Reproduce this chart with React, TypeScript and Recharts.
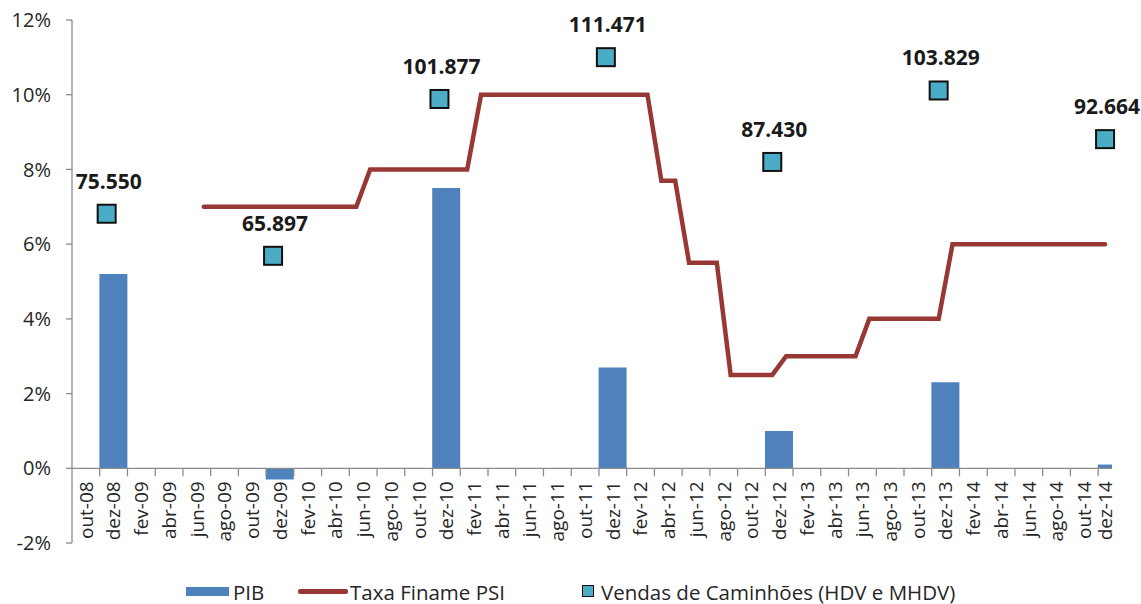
import React from "react";
import { ComposedChart, Bar, Line, Scatter, XAxis, YAxis, ReferenceLine } from "recharts";

// eixo mensal: out-08 .. dez-14 (75 meses), rotulado a cada 2 meses
const MONTHS = 75;
const AXIS_LABELS = [
	"out-08", "dez-08", "fev-09", "abr-09", "jun-09", "ago-09", "out-09", "dez-09",
	"fev-10", "abr-10", "jun-10", "ago-10", "out-10", "dez-10", "fev-11", "abr-11",
	"jun-11", "ago-11", "out-11", "dez-11", "fev-12", "abr-12", "jun-12", "ago-12",
	"out-12", "dez-12", "fev-13", "abr-13", "jun-13", "ago-13", "out-13", "dez-13",
	"fev-14", "abr-14", "jun-14", "ago-14", "out-14", "dez-14",
];
const Y_TICKS = [-2, 0, 2, 4, 6, 8, 10, 12];

const YEARS = [2008, 2009, 2010, 2011, 2012, 2013, 2014];
const PIB = [5.2, -0.3, 7.5, 2.7, 1.0, 2.3, 0.1];
const VENDAS = [75550, 65897, 101877, 111471, 87430, 103829, 92664];

// Taxa Finame PSI, mensal, a partir de jul-09
const TAXA_2009 = [7, 7, 7, 7, 7, 7];
const TAXA_2010 = [7, 7, 7, 7, 7, 7, 8, 8, 8, 8, 8, 8];
const TAXA_2011 = [8, 8, 10, 10, 10, 10, 10, 10, 10, 10, 10, 10];
const TAXA_2012 = [10, 10, 10, 7.7, 7.7, 5.5, 5.5, 5.5, 2.5, 2.5, 2.5, 2.5];
const TAXA_2013 = [3, 3, 3, 3, 3, 3, 4, 4, 4, 4, 4, 4];
const TAXA_2014 = [6, 6, 6, 6, 6, 6, 6, 6, 6, 6, 6, 6];
const TAXA_START = 9; // jul-09

const FONT = "'Open Sans', sans-serif";
const GRID = "#8c8c8c";
const TEXT = "#262626";

const decIndex = (year: number) => 2 + (year - 2008) * 12;
const fmt = (v: number) => String(v).replace(/\B(?=(\d{3})+(?!\d))/g, ".");

const barRows = YEARS.map((y, i) => ({ x: decIndex(y) + 1, pib: PIB[i] }));
const taxaRows = [...TAXA_2009, ...TAXA_2010, ...TAXA_2011, ...TAXA_2012, ...TAXA_2013, ...TAXA_2014].map(
	(v, i) => ({ x: TAXA_START + i + 0.5, taxa: v })
);
const vendasRows = YEARS.map((y, i) => ({ x: decIndex(y) + 0.5, vendas: VENDAS[i] }));
const axisRows = [
	...AXIS_LABELS.map((label, i) => ({ x: (2 * i + Math.min(2 * i + 2, MONTHS)) / 2, y0: 0, label })),
	...AXIS_LABELS.slice(1).map((_, i) => ({ x: 2 * (i + 1), y0: 0, tick: true })),
];

const VendasShape = (props: any) => {
	const { cx, cy, payload } = props;
	return (
		<g>
			<rect x={cx - 9} y={cy - 9} width={18} height={18} fill="#4bacc6" stroke="#111" strokeWidth={2} />
			<text x={cx + 2} y={cy - 25} textAnchor="middle" fontSize={21} fontWeight={700} fill="#1a1a1a" fontFamily={FONT}>
				{fmt(payload.vendas)}
			</text>
		</g>
	);
};

const AxisMark = (props: any) => {
	const { cx, cy, payload } = props;
	if (payload.tick) {
		return <line x1={cx} y1={cy} x2={cx} y2={cy + 8} stroke={GRID} strokeWidth={1.3} />;
	}
	const ty = cy + 13;
	return (
		<text x={cx} y={ty} transform={`rotate(-90 ${cx} ${ty})`} textAnchor="end" dy="0.36em" fontSize={19} fill={TEXT} fontFamily={FONT}>
			{payload.label}
		</text>
	);
};

export default function App() {
	return (
		<div style={{ position: "absolute", left: 0, top: 0, width: 1141, height: 604, background: "#fff" }}>
			<ComposedChart width={1141} height={604} data={barRows} margin={{ top: 20, right: 29, left: 0, bottom: 61 }}>
				<XAxis xAxisId="main" type="number" dataKey="x" domain={[0, MONTHS]} tickCount={6} hide />
				<XAxis xAxisId="bar" type="number" dataKey="x" domain={[0, MONTHS]} tickCount={6} allowDataOverflow hide />
				<YAxis
					yAxisId="left"
					domain={[-2, 12]}
					ticks={Y_TICKS}
					tickCount={8}
					interval={0}
					allowDataOverflow
					width={72}
					tickFormatter={(v: number) => `${v}%`}
					axisLine={{ stroke: GRID, strokeWidth: 1.3 }}
					tickLine={{ stroke: GRID, strokeWidth: 1.3 }}
					tickSize={6}
					tickMargin={15}
					tick={{ fontSize: 20, fill: TEXT, fontFamily: FONT }}
				/>
				<YAxis yAxisId="zero" dataKey="y0" domain={[-2, 12]} tickCount={8} hide />
				<YAxis yAxisId="right" orientation="right" dataKey="vendas" domain={[0, 120000]} tickCount={5} hide />
				<Bar xAxisId="bar" yAxisId="left" dataKey="pib" fill="#4f81bd" barSize={28} isAnimationActive={false} />
				<ReferenceLine xAxisId="main" yAxisId="left" y={0} stroke={GRID} strokeWidth={1.3} />
				<Scatter xAxisId="main" yAxisId="zero" data={axisRows} dataKey="y0" shape={AxisMark} isAnimationActive={false} />
				<Line
					xAxisId="main"
					yAxisId="left"
					data={taxaRows}
					dataKey="taxa"
					stroke="#983834"
					strokeWidth={4.5}
					strokeLinecap="round"
					dot={false}
					activeDot={false}
					type="linear"
					isAnimationActive={false}
				/>
				<Scatter xAxisId="main" yAxisId="right" data={vendasRows} dataKey="vendas" shape={VendasShape} isAnimationActive={false} />
			</ComposedChart>
			<div style={{ position: "absolute", top: 579, left: 0, width: 1141, height: 26, fontFamily: FONT, fontSize: 20.5, color: TEXT }}>
				<div style={{ position: "absolute", left: 186, top: 8, width: 43, height: 9, background: "#4f81bd" }} />
				<span style={{ position: "absolute", left: 233, top: 0, lineHeight: "26px" }}>PIB</span>
				<div style={{ position: "absolute", left: 298, top: 10, width: 50, height: 5, background: "#983834", borderRadius: 2 }} />
				<span style={{ position: "absolute", left: 350, top: 0, lineHeight: "26px" }}>Taxa Finame PSI</span>
				<div style={{ position: "absolute", left: 582, top: 6, width: 10, height: 10, background: "#4bacc6", border: "1.5px solid #111" }} />
				<span style={{ position: "absolute", left: 601, top: 0, lineHeight: "26px" }}>Vendas de Caminhões (HDV e MHDV)</span>
			</div>
		</div>
	);
}
